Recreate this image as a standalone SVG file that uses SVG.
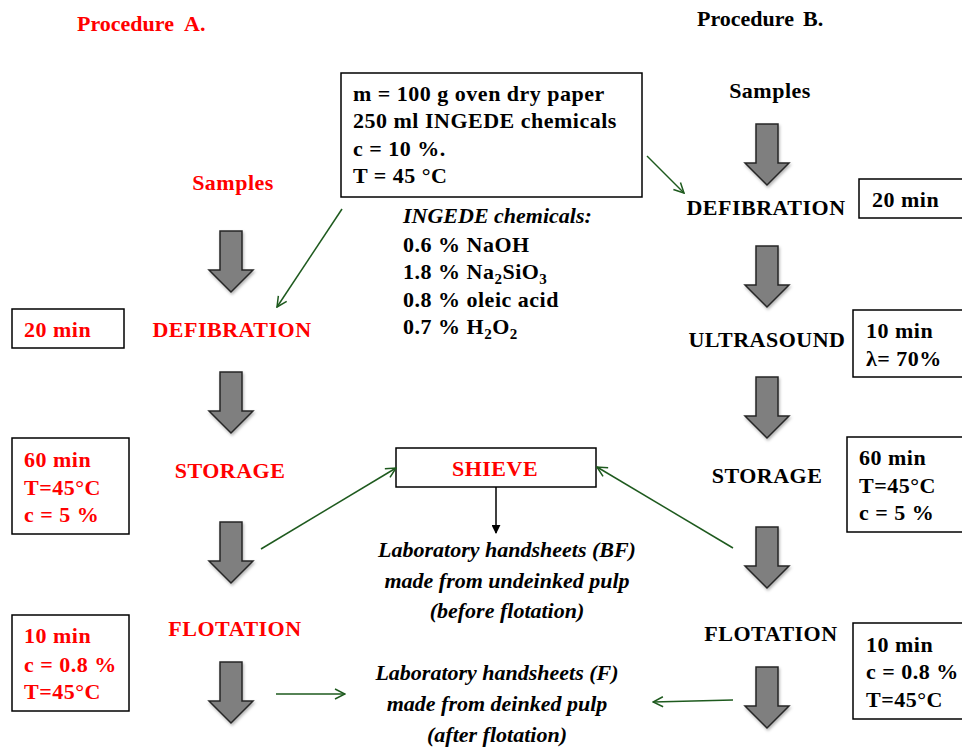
<svg xmlns="http://www.w3.org/2000/svg" xmlns:xlink="http://www.w3.org/1999/xlink" width="962" height="747" viewBox="0 0 962 747">
<style>
text{font-family:"Liberation Serif","Times New Roman",serif;font-size:22px;font-weight:bold;letter-spacing:0.5px;}
.r{fill:#ff0000;}
.k{fill:#000000;}
.i{font-style:italic;letter-spacing:0px;}
.t{letter-spacing:0px;}
.m{text-anchor:middle;}
.box{fill:#ffffff;stroke:#000000;stroke-width:1.5;}
.g{fill:none;stroke:#1e5a1e;stroke-width:1.5;}
.blk{fill:#7f7f7f;stroke:#262626;stroke-width:1.5;stroke-linejoin:miter;}
.sub{font-size:15px;}
</style>
<defs>
<path id="ba" d="M-11,0 H11 V39 H22 L0,61 L-22,39 H-11 Z"/>
<marker id="ga" viewBox="0 0 12 12" refX="11" refY="6" markerWidth="12" markerHeight="12" markerUnits="userSpaceOnUse" orient="auto">
<path d="M1,1 L11,6 L1,11" fill="none" stroke="#1e5a1e" stroke-width="1.5"/>
</marker>
<marker id="ka" viewBox="0 0 10 10" refX="9" refY="5" markerWidth="9" markerHeight="9" markerUnits="userSpaceOnUse" orient="auto">
<path d="M0,0 L10,5 L0,10 Z" fill="#000000"/>
</marker>
<filter id="sh" x="-30%" y="-30%" width="160%" height="160%">
<feDropShadow dx="1" dy="2" stdDeviation="1.5" flood-color="#000000" flood-opacity="0.3"/>
</filter>
</defs>

<g id="titles">
<text class="r t" x="77" y="31">Procedure<tspan x="184">A.</tspan></text>
<text class="k t" x="697" y="26">Procedure<tspan x="803">B.</tspan></text>
</g>

<g id="flowA">
<g id="a-samples"><text class="r m" x="233" y="190">Samples</text></g>
<g id="a-defib"><text class="r m" x="232" y="337">DEFIBRATION</text></g>
<g id="a-defib-box"><rect class="box" x="12" y="309" width="112" height="39"/><text class="r" x="24" y="337">20 min</text></g>
<g id="a-storage"><text class="r m" x="230" y="478">STORAGE</text></g>
<g id="a-storage-box"><rect class="box" x="12" y="438" width="117" height="96"/>
<text class="r" x="24" y="467">60 min</text><text class="r" x="24" y="495">T=45°C</text><text class="r" x="24" y="522">c = 5 %</text></g>
<g id="a-flot"><text class="r m" x="235" y="636">FLOTATION</text></g>
<g id="a-flot-box"><rect class="box" x="12" y="615" width="117" height="96"/>
<text class="r" x="24" y="643">10 min</text><text class="r" x="24" y="672">c = 0.8 %</text><text class="r" x="24" y="699">T=45°C</text></g>
<g id="a-arrows" filter="url(#sh)">
<use xlink:href="#ba" class="blk" transform="translate(231,231)"/>
<use xlink:href="#ba" class="blk" transform="translate(231,372)"/>
<use xlink:href="#ba" class="blk" transform="translate(231,522)"/>
<use xlink:href="#ba" class="blk" transform="translate(231,662)"/>
</g>
</g>

<g id="flowB">
<g id="b-samples"><text class="k m" x="770" y="98">Samples</text></g>
<g id="b-defib"><text class="k m" x="766" y="215">DEFIBRATION</text></g>
<g id="b-defib-box"><rect class="box" x="859" y="179" width="110" height="39"/><text class="k" x="872" y="207">20 min</text></g>
<g id="b-ultra"><text class="k m" x="767" y="347">ULTRASOUND</text></g>
<g id="b-ultra-box"><rect class="box" x="853" y="310" width="115" height="67"/>
<text class="k" x="866" y="338">10 min</text><text class="k" x="866" y="366">λ= 70%</text></g>
<g id="b-storage"><text class="k m" x="767" y="483">STORAGE</text></g>
<g id="b-storage-box"><rect class="box" x="847" y="437" width="120" height="95"/>
<text class="k" x="859" y="465">60 min</text><text class="k" x="859" y="493">T=45°C</text><text class="k" x="859" y="520">c = 5 %</text></g>
<g id="b-flot"><text class="k m" x="771" y="641">FLOTATION</text></g>
<g id="b-flot-box"><rect class="box" x="853" y="623" width="115" height="96"/>
<text class="k" x="866" y="652">10 min</text><text class="k" x="866" y="679">c = 0.8 %</text><text class="k" x="866" y="707">T=45°C</text></g>
<g id="b-arrows" filter="url(#sh)">
<use xlink:href="#ba" class="blk" transform="translate(767,124)"/>
<use xlink:href="#ba" class="blk" transform="translate(767,246)"/>
<use xlink:href="#ba" class="blk" transform="translate(767,377)"/>
<use xlink:href="#ba" class="blk" transform="translate(767,527)"/>
<use xlink:href="#ba" class="blk" transform="translate(767,667)"/>
</g>
</g>

<g id="conditions">
<rect class="box" x="341" y="73" width="301" height="124"/>
<text class="k" x="353" y="101">m = 100 g oven dry paper</text>
<text class="k" x="353" y="128">250 ml INGEDE chemicals</text>
<text class="k" x="353" y="156">c = 10 %.</text>
<text class="k" x="353" y="183">T = 45 °C</text>
</g>

<g id="chemicals">
<text class="k i" x="403" y="223">INGEDE chemicals:</text>
<text class="k" x="403" y="252">0.6 % NaOH</text>
<text class="k" x="403" y="279">1.8 % Na<tspan class="sub" dy="5">2</tspan><tspan dy="-5">SiO</tspan><tspan class="sub" dy="5">3</tspan></text>
<text class="k" x="403" y="307">0.8 % oleic acid</text>
<text class="k" x="403" y="334">0.7 % H<tspan class="sub" dy="5">2</tspan><tspan dy="-5">O</tspan><tspan class="sub" dy="5">2</tspan></text>
</g>

<g id="shieve">
<rect class="box" x="396" y="448" width="200" height="39"/>
<text class="r m" x="495" y="476">SHIEVE</text>
</g>

<g id="handsheets-bf">
<text class="k i m" x="507" y="557">Laboratory handsheets (BF)</text>
<text class="k i m" x="507" y="588">made from undeinked pulp</text>
<text class="k i m" x="507" y="618">(before flotation)</text>
</g>

<g id="handsheets-f">
<text class="k i m" x="497" y="680">Laboratory handsheets (F)</text>
<text class="k i m" x="497" y="711">made from deinked pulp</text>
<text class="k i m" x="497" y="742">(after flotation)</text>
</g>

<g id="connectors">
<line class="g" x1="342" y1="209" x2="277" y2="307" marker-end="url(#ga)"/>
<line class="g" x1="647" y1="156" x2="684" y2="193" marker-end="url(#ga)"/>
<line class="g" x1="261" y1="549" x2="396" y2="468" marker-end="url(#ga)"/>
<line class="g" x1="733" y1="548" x2="597" y2="467" marker-end="url(#ga)"/>
<line class="g" x1="276" y1="694" x2="345" y2="694" marker-end="url(#ga)"/>
<line class="g" x1="733" y1="700" x2="653" y2="702" marker-end="url(#ga)"/>
<line x1="496" y1="487" x2="496" y2="533" stroke="#000000" stroke-width="1.5" marker-end="url(#ka)"/>
</g>
</svg>
